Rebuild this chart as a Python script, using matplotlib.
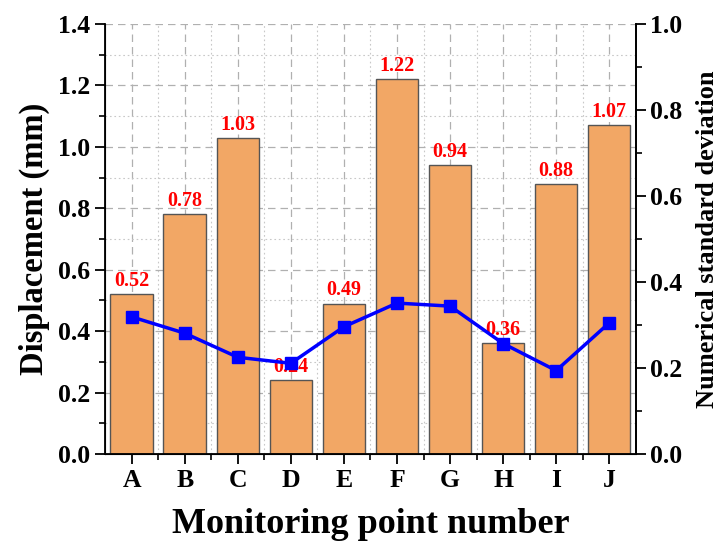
import matplotlib.pyplot as plt
from matplotlib.ticker import MultipleLocator

points = ['A', 'B', 'C', 'D', 'E', 'F', 'G', 'H', 'I', 'J']
displacement = [0.52, 0.78, 1.03, 0.24, 0.49, 1.22, 0.94, 0.36, 0.88, 1.07]
std_dev = [0.319, 0.281, 0.225, 0.211, 0.296, 0.351, 0.344, 0.257, 0.194, 0.305]

plt.rcParams['font.family'] = 'Liberation Serif'
plt.rcParams['font.weight'] = 'bold'

fig = plt.figure(figsize=(7.2, 5.47), dpi=100)
ax = fig.add_axes([0.146, 0.170, 0.737, 0.786])
x = list(range(len(points)))

ax.bar(x, displacement, width=0.8, color='#F2A765', edgecolor='#555555',
       linewidth=1.0, zorder=2)
for xi, v in zip(x, displacement):
    ax.text(xi, v + 0.01, f'{v:.2f}', ha='center', va='bottom', color='red',
            fontsize=14.5, fontweight='bold', zorder=5)

ax.set_xlim(-0.5, 9.5)
ax.set_ylim(0, 1.4)
ax.set_xticks(x)
ax.set_xticklabels(points)
ax.set_xticks([i + 0.5 for i in x[:-1]], minor=True)
ax.yaxis.set_major_locator(MultipleLocator(0.2))
ax.yaxis.set_minor_locator(MultipleLocator(0.1))

ax.grid(True, which='major', linestyle=(0, (6, 4)), color='#b0b0b0', linewidth=0.9, zorder=0)
ax.grid(True, which='minor', linestyle=(0, (1.5, 2.5)), color='#c8c8c8', linewidth=0.8, zorder=0)
ax.set_axisbelow(True)
ax.tick_params(axis='both', which='major', labelsize=18.5, width=1.3, length=7, direction='out')
ax.tick_params(axis='both', which='minor', width=1.2, length=4, direction='out')
ax.spines['top'].set_visible(False)
for s in ['left', 'bottom', 'right']:
    ax.spines[s].set_linewidth(1.3)

ax.set_xlabel('Monitoring point number', fontsize=26, fontweight='bold', labelpad=12)
ax.set_ylabel('Displacement (mm)', fontsize=23.5, fontweight='bold', labelpad=6)

ax2 = ax.twinx()
ax2.plot(x, std_dev, color='#0000FF', linewidth=2.5, marker='s', markersize=9, zorder=4)
ax2.set_ylim(0, 1.0)
ax2.yaxis.set_major_locator(MultipleLocator(0.2))
ax2.yaxis.set_minor_locator(MultipleLocator(0.1))
ax2.tick_params(axis='y', which='major', labelsize=18.5, width=1.3, length=7, direction='out')
ax2.tick_params(axis='y', which='minor', width=1.2, length=4, direction='out')
ax2.spines['top'].set_visible(False)
ax2.spines['right'].set_linewidth(1.3)
ax2.set_ylabel('Numerical standard deviation', fontsize=19, fontweight='bold', labelpad=10)

fig.savefig('out.png', dpi=100)
